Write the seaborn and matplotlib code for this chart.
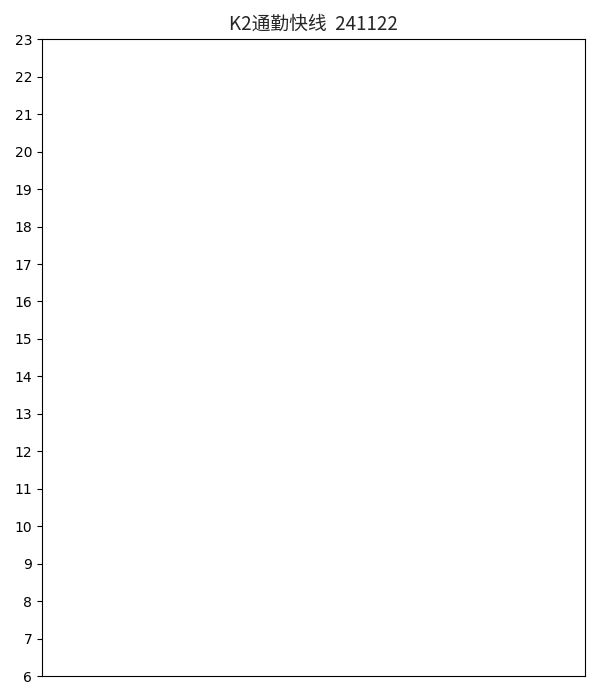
import matplotlib
matplotlib.use('Agg')
import matplotlib.pyplot as plt
import seaborn as sns
import pandas as pd

# hour ticks shown on y axis
hours = list(range(6, 24))
title_text = 'K2通勤快线  241122'

# no trips recorded that day -> empty frame
trip_x = []
trip_hour = []
df = pd.DataFrame({'x': pd.Series(trip_x, dtype=float), 'hour': pd.Series(trip_hour, dtype=float)})

sns.set_style('ticks')
plt.rcParams['font.family'] = ['DejaVu Sans']

fig = plt.figure(figsize=(6, 7), dpi=100)
ax = fig.add_axes([0.07, 0.034, 0.905, 0.91])
sns.scatterplot(data=df, x='x', y='hour', ax=ax)

ax.set_ylim(hours[0], hours[-1])
ax.set_yticks(hours)
ax.set_xticks([])
ax.set_xlabel('')
ax.set_ylabel('')
for s in ax.spines.values():
    s.set_visible(True)
    s.set_color('black')
    s.set_linewidth(0.8)
ax.tick_params(axis='y', labelsize=10, colors='black', length=3.5, width=0.8)
ax.set_title(title_text, fontsize=13.5, pad=6.5, family=['Noto Sans CJK SC', 'DejaVu Sans'])

fig.savefig('out.png', dpi=100)
